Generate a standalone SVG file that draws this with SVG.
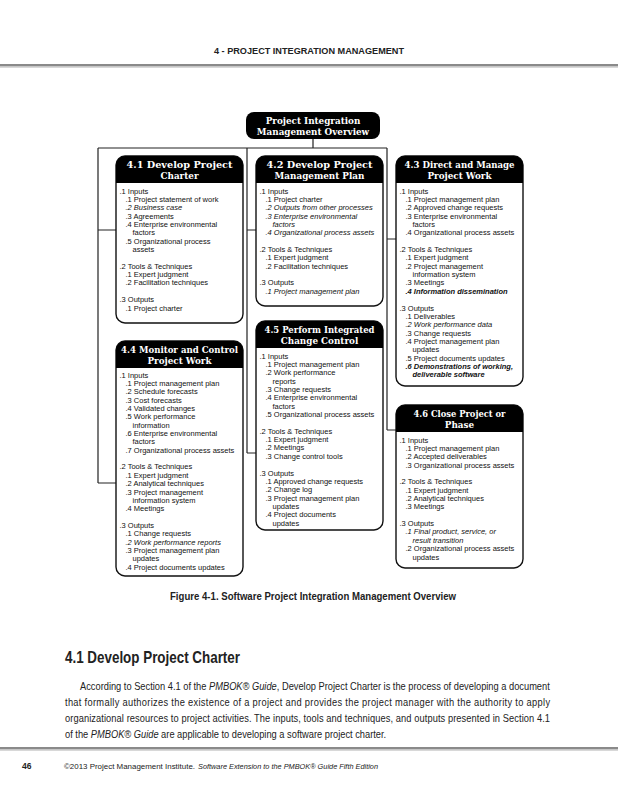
<svg xmlns="http://www.w3.org/2000/svg" width="618" height="800" viewBox="0 0 618 800">
<style>
.pg{font-family:"Liberation Sans",Arial,sans-serif;fill:#222}
.b{font-weight:bold}
.it{font-style:italic}
.bi{font-style:italic;font-weight:bold}
.box{fill:#fff;stroke:#111;stroke-width:1.4}
.hd{fill:#000}
.ttl{font-family:"DejaVu Serif","Liberation Serif",serif;font-weight:bold;font-size:8.8px;fill:#fff;text-anchor:middle}
.t{font-family:"Liberation Sans",Arial,sans-serif;font-size:7.5px;fill:#111}
.con{fill:none;stroke:#222;stroke-width:1.2}
</style>
<rect width="618" height="800" fill="#fff"/>
<text class="pg b" x="309" y="54" font-size="9.5" text-anchor="middle" textLength="190" lengthAdjust="spacingAndGlyphs" fill="#333">4 - PROJECT INTEGRATION MANAGEMENT</text>
<rect x="0" y="64" width="618" height="2.5" fill="#8a8a8a"/>
<rect x="0" y="66.5" width="618" height="1.2" fill="#c8c8c8"/>

<g id="connectors">
<path class="con" d="M313 139V148M98 148H387M98 148V483M98 230H116M98 483H116M247 148V453M247 230H256M247 453H256M387 148V430M387 239H396M387 430H396"/>
</g>

<g id="overview">
<rect class="hd" x="246" y="112" width="134" height="27" rx="8"/>
<text class="ttl" font-size="8.5" x="313" y="123.5">Project Integration</text>
<text class="ttl" font-size="8.5" x="313" y="135">Management Overview</text>
</g>

<g id="p41">
<rect class="box" x="116" y="156" width="127" height="167" rx="9"/>
<path class="hd" d="M116 183V165A9 9 0 0 1 125 156H234A9 9 0 0 1 243 165V183Z"/>
<text class="ttl" x="179.5" y="167.5" textLength="106" lengthAdjust="spacingAndGlyphs">4.1 Develop Project</text>
<text class="ttl" x="179.5" y="179">Charter</text>
<text class="t" y="193.5"><tspan x="119.5">.1 Inputs</tspan><tspan x="125.5" dy="8.36">.1 Project statement of work</tspan><tspan x="125.5" dy="8.36" class="it">.2 Business case</tspan><tspan x="125.5" dy="8.36">.3 Agreements</tspan><tspan x="125.5" dy="8.36">.4 Enterprise environmental</tspan><tspan x="132.5" dy="8.36">factors</tspan><tspan x="125.5" dy="8.36">.5 Organizational process</tspan><tspan x="132.5" dy="8.36">assets</tspan><tspan x="119.5" dy="16.72">.2 Tools &amp; Techniques</tspan><tspan x="125.5" dy="8.36">.1 Expert judgment</tspan><tspan x="125.5" dy="8.36">.2 Facilitation techniques</tspan><tspan x="119.5" dy="16.72">.3 Outputs</tspan><tspan x="125.5" dy="8.36">.1 Project charter</tspan></text>
</g>

<g id="p42">
<rect class="box" x="256" y="156" width="127" height="150" rx="9"/>
<path class="hd" d="M256 183V165A9 9 0 0 1 265 156H374A9 9 0 0 1 383 165V183Z"/>
<text class="ttl" x="319.5" y="167.5" textLength="106" lengthAdjust="spacingAndGlyphs">4.2 Develop Project</text>
<text class="ttl" x="319.5" y="179">Management Plan</text>
<text class="t" y="193.5"><tspan x="259.5">.1 Inputs</tspan><tspan x="265.5" dy="8.36">.1 Project charter</tspan><tspan x="265.5" dy="8.36" class="it">.2 Outputs from other processes</tspan><tspan x="265.5" dy="8.36" class="it">.3 Enterprise environmental</tspan><tspan x="272.5" dy="8.36" class="it">factors</tspan><tspan x="265.5" dy="8.36" class="it">.4 Organizational process assets</tspan><tspan x="259.5" dy="16.72">.2 Tools &amp; Techniques</tspan><tspan x="265.5" dy="8.36">.1 Expert judgment</tspan><tspan x="265.5" dy="8.36">.2 Facilitation techniques</tspan><tspan x="259.5" dy="16.72">.3 Outputs</tspan><tspan x="265.5" dy="8.36" class="it">.1 Project management plan</tspan></text>
</g>

<g id="p43">
<rect class="box" x="396" y="156" width="127" height="230" rx="9"/>
<path class="hd" d="M396 183V165A9 9 0 0 1 405 156H514A9 9 0 0 1 523 165V183Z"/>
<text class="ttl" x="459.5" y="167.5" textLength="110" lengthAdjust="spacingAndGlyphs">4.3 Direct and Manage</text>
<text class="ttl" x="459.5" y="179">Project Work</text>
<text class="t" y="193.5"><tspan x="399.5">.1 Inputs</tspan><tspan x="405.5" dy="8.36">.1 Project management plan</tspan><tspan x="405.5" dy="8.36">.2 Approved change requests</tspan><tspan x="405.5" dy="8.36">.3 Enterprise environmental</tspan><tspan x="412.5" dy="8.36">factors</tspan><tspan x="405.5" dy="8.36">.4 Organizational process assets</tspan><tspan x="399.5" dy="16.72">.2 Tools &amp; Techniques</tspan><tspan x="405.5" dy="8.36">.1 Expert judgment</tspan><tspan x="405.5" dy="8.36">.2 Project management</tspan><tspan x="412.5" dy="8.36">information system</tspan><tspan x="405.5" dy="8.36">.3 Meetings</tspan><tspan x="405.5" dy="8.36" class="bi">.4 Information dissemination</tspan><tspan x="399.5" dy="16.72">.3 Outputs</tspan><tspan x="405.5" dy="8.36">.1 Deliverables</tspan><tspan x="405.5" dy="8.36" class="it">.2 Work performance data</tspan><tspan x="405.5" dy="8.36">.3 Change requests</tspan><tspan x="405.5" dy="8.36">.4 Project management plan</tspan><tspan x="412.5" dy="8.36">updates</tspan><tspan x="405.5" dy="8.36">.5 Project documents updates</tspan><tspan x="405.5" dy="8.36" class="bi">.6 Demonstrations of working,</tspan><tspan x="412.5" dy="8.36" class="bi">deliverable software</tspan></text>
</g>

<g id="p44">
<rect class="box" x="116" y="341" width="127" height="235" rx="9"/>
<path class="hd" d="M116 368V350A9 9 0 0 1 125 341H234A9 9 0 0 1 243 350V368Z"/>
<text class="ttl" x="179.5" y="352.5" textLength="117" lengthAdjust="spacingAndGlyphs">4.4 Monitor and Control</text>
<text class="ttl" x="179.5" y="364">Project Work</text>
<text class="t" y="377.5"><tspan x="119.5">.1 Inputs</tspan><tspan x="125.5" dy="8.36">.1 Project management plan</tspan><tspan x="125.5" dy="8.36">.2 Schedule forecasts</tspan><tspan x="125.5" dy="8.36">.3 Cost forecasts</tspan><tspan x="125.5" dy="8.36">.4 Validated changes</tspan><tspan x="125.5" dy="8.36">.5 Work performance</tspan><tspan x="132.5" dy="8.36">information</tspan><tspan x="125.5" dy="8.36">.6 Enterprise environmental</tspan><tspan x="132.5" dy="8.36">factors</tspan><tspan x="125.5" dy="8.36">.7 Organizational process assets</tspan><tspan x="119.5" dy="16.72">.2 Tools &amp; Techniques</tspan><tspan x="125.5" dy="8.36">.1 Expert judgment</tspan><tspan x="125.5" dy="8.36">.2 Analytical techniques</tspan><tspan x="125.5" dy="8.36">.3 Project management</tspan><tspan x="132.5" dy="8.36">information system</tspan><tspan x="125.5" dy="8.36">.4 Meetings</tspan><tspan x="119.5" dy="16.72">.3 Outputs</tspan><tspan x="125.5" dy="8.36">.1 Change requests</tspan><tspan x="125.5" dy="8.36" class="it">.2 Work performance reports</tspan><tspan x="125.5" dy="8.36">.3 Project management plan</tspan><tspan x="132.5" dy="8.36">updates</tspan><tspan x="125.5" dy="8.36">.4 Project documents updates</tspan></text>
</g>

<g id="p45">
<rect class="box" x="256" y="321" width="127" height="209" rx="9"/>
<path class="hd" d="M256 348V330A9 9 0 0 1 265 321H374A9 9 0 0 1 383 330V348Z"/>
<text class="ttl" x="319.5" y="332.5" textLength="110" lengthAdjust="spacingAndGlyphs">4.5 Perform Integrated</text>
<text class="ttl" x="319.5" y="344">Change Control</text>
<text class="t" y="358.5"><tspan x="259.5">.1 Inputs</tspan><tspan x="265.5" dy="8.36">.1 Project management plan</tspan><tspan x="265.5" dy="8.36">.2 Work performance</tspan><tspan x="272.5" dy="8.36">reports</tspan><tspan x="265.5" dy="8.36">.3 Change requests</tspan><tspan x="265.5" dy="8.36">.4 Enterprise environmental</tspan><tspan x="272.5" dy="8.36">factors</tspan><tspan x="265.5" dy="8.36">.5 Organizational process assets</tspan><tspan x="259.5" dy="16.72">.2 Tools &amp; Techniques</tspan><tspan x="265.5" dy="8.36">.1 Expert judgment</tspan><tspan x="265.5" dy="8.36">.2 Meetings</tspan><tspan x="265.5" dy="8.36">.3 Change control tools</tspan><tspan x="259.5" dy="16.72">.3 Outputs</tspan><tspan x="265.5" dy="8.36">.1 Approved change requests</tspan><tspan x="265.5" dy="8.36">.2 Change log</tspan><tspan x="265.5" dy="8.36">.3 Project management plan</tspan><tspan x="272.5" dy="8.36">updates</tspan><tspan x="265.5" dy="8.36">.4 Project documents</tspan><tspan x="272.5" dy="8.36">updates</tspan></text>
</g>

<g id="p46">
<rect class="box" x="396" y="405" width="127" height="163" rx="9"/>
<path class="hd" d="M396 432V414A9 9 0 0 1 405 405H514A9 9 0 0 1 523 414V432Z"/>
<text class="ttl" x="459.5" y="416.5" textLength="92" lengthAdjust="spacingAndGlyphs">4.6 Close Project or</text>
<text class="ttl" x="459.5" y="428">Phase</text>
<text class="t" y="442.5"><tspan x="399.5">.1 Inputs</tspan><tspan x="405.5" dy="8.36">.1 Project management plan</tspan><tspan x="405.5" dy="8.36">.2 Accepted deliverables</tspan><tspan x="405.5" dy="8.36">.3 Organizational process assets</tspan><tspan x="399.5" dy="16.72">.2 Tools &amp; Techniques</tspan><tspan x="405.5" dy="8.36">.1 Expert judgment</tspan><tspan x="405.5" dy="8.36">.2 Analytical techniques</tspan><tspan x="405.5" dy="8.36">.3 Meetings</tspan><tspan x="399.5" dy="16.72">.3 Outputs</tspan><tspan x="405.5" dy="8.36" class="it">.1 Final product, service, or</tspan><tspan x="412.5" dy="8.36" class="it">result transition</tspan><tspan x="405.5" dy="8.36">.2 Organizational process assets</tspan><tspan x="412.5" dy="8.36">updates</tspan></text>
</g>

<text class="pg b" x="313" y="599.5" font-size="10" text-anchor="middle" textLength="286" lengthAdjust="spacingAndGlyphs" fill="#111">Figure 4-1. Software Project Integration Management Overview</text>
<text class="pg b" x="65" y="663" font-size="17" textLength="175" lengthAdjust="spacingAndGlyphs" fill="#111">4.1 Develop Project Charter</text>
<g transform="translate(65 0) scale(0.845 1)">
<text class="pg" x="17.75" y="690" font-size="11">According to Section 4.1 of the <tspan class="it">PMBOK® Guide</tspan>, Develop Project Charter is the process of developing a document</text>
<text class="pg" x="0" y="706" font-size="11" textLength="574" lengthAdjust="spacing">that formally authorizes the existence of a project and provides the project manager with the authority to apply</text>
<text class="pg" x="0" y="722" font-size="11" textLength="574" lengthAdjust="spacing">organizational resources to project activities. The inputs, tools and techniques, and outputs presented in Section 4.1</text>
<text class="pg" x="0" y="738" font-size="11">of the <tspan class="it">PMBOK® Guide</tspan> are applicable to developing a software project charter.</text>
</g>

<rect x="0" y="747" width="618" height="2.5" fill="#8a8a8a"/>
<rect x="0" y="749.5" width="618" height="1.2" fill="#c8c8c8"/>
<text class="pg b" x="22" y="769" font-size="8.5" fill="#111">46</text>
<text class="pg" x="64" y="769" font-size="7.6" textLength="131" lengthAdjust="spacingAndGlyphs">©2013 Project Management Institute.</text>
<text class="pg it" x="198" y="769" font-size="7.6" textLength="180" lengthAdjust="spacingAndGlyphs">Software Extension to the PMBOK® Guide Fifth Edition</text>
</svg>
